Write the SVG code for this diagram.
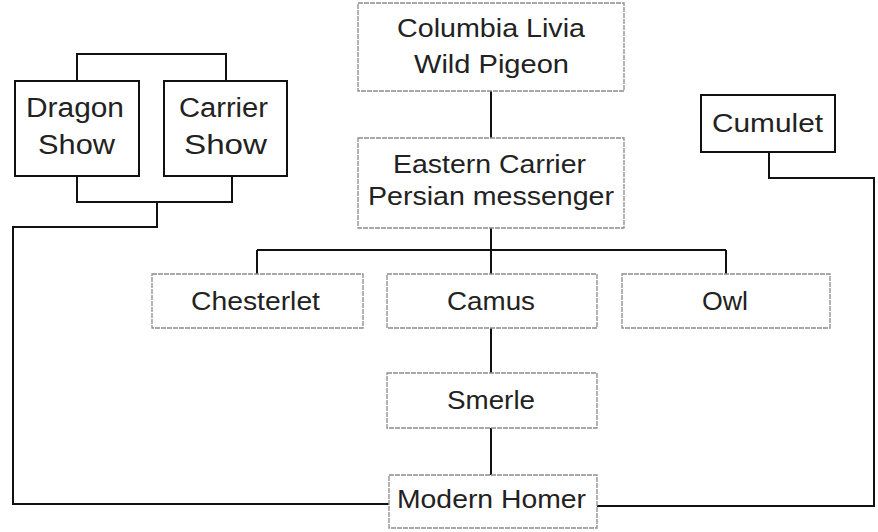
<svg xmlns="http://www.w3.org/2000/svg" width="878" height="532" viewBox="0 0 878 532">
<style>
.bg{fill:#fff}
.soft{fill:#fff;stroke:#8c8c8c;stroke-width:1.3;stroke-dasharray:5 1}
.hard{fill:#fff;stroke:#111;stroke-width:2}
.t{font-family:"Liberation Sans",Arial,sans-serif;font-size:25px;fill:#222}
.tb{font-family:"Liberation Sans",Arial,sans-serif;font-size:27px;fill:#222}
.c{fill:none;stroke:#111;stroke-width:2}
</style>
<rect class="bg" x="0" y="0" width="878" height="532"/>
<g id="connectors">
<path class="c" d="M491 91V138"/>
<path class="c" d="M491 228V250"/>
<path class="c" d="M257 250H726"/>
<path class="c" d="M257 250V274"/>
<path class="c" d="M491 250V274"/>
<path class="c" d="M726 250V274"/>
<path class="c" d="M491 328V373"/>
<path class="c" d="M491 428V475"/>
<path class="c" d="M77 81V54H226V81"/>
<path class="c" d="M77 176V202H232V176"/>
<path class="c" d="M157 202V227H13V504H389"/>
<path class="c" d="M769 152V178H874V506H597"/>
</g>
<g id="columbia">
<rect class="soft" x="358" y="3" width="266" height="88"/>
<text class="t" x="397" y="37" textLength="188" lengthAdjust="spacingAndGlyphs">Columbia Livia</text>
<text class="t" x="414" y="73" textLength="155" lengthAdjust="spacingAndGlyphs">Wild Pigeon</text>
</g>
<g id="eastern">
<rect class="soft" x="358" y="138" width="266" height="90"/>
<text class="t" x="393" y="173" textLength="193" lengthAdjust="spacingAndGlyphs">Eastern Carrier</text>
<text class="t" x="368" y="205" textLength="246" lengthAdjust="spacingAndGlyphs">Persian messenger</text>
</g>
<g id="dragon">
<rect class="hard" x="15" y="81" width="124" height="95"/>
<text class="tb" x="26" y="117" textLength="98" lengthAdjust="spacingAndGlyphs">Dragon</text>
<text class="tb" x="38" y="154" textLength="77" lengthAdjust="spacingAndGlyphs">Show</text>
</g>
<g id="carrier">
<rect class="hard" x="164" y="81" width="123" height="95"/>
<text class="tb" x="179" y="117" textLength="89" lengthAdjust="spacingAndGlyphs">Carrier</text>
<text class="tb" x="184" y="154" textLength="83" lengthAdjust="spacingAndGlyphs">Show</text>
</g>
<g id="cumulet">
<rect class="hard" x="701" y="95" width="134" height="57"/>
<text class="t" x="712" y="132" textLength="111" lengthAdjust="spacingAndGlyphs">Cumulet</text>
</g>
<g id="chesterlet">
<rect class="soft" x="152" y="274" width="211" height="54"/>
<text class="t" x="191" y="310" textLength="129" lengthAdjust="spacingAndGlyphs">Chesterlet</text>
</g>
<g id="camus">
<rect class="soft" x="387" y="274" width="210" height="54"/>
<text class="t" x="447" y="310" textLength="88" lengthAdjust="spacingAndGlyphs">Camus</text>
</g>
<g id="owl">
<rect class="soft" x="622" y="274" width="208" height="54"/>
<text class="t" x="702" y="310" textLength="46" lengthAdjust="spacingAndGlyphs">Owl</text>
</g>
<g id="smerle">
<rect class="soft" x="387" y="373" width="210" height="55"/>
<text class="t" x="447" y="409" textLength="88" lengthAdjust="spacingAndGlyphs">Smerle</text>
</g>
<g id="homer">
<rect class="soft" x="389" y="475" width="208" height="53"/>
<text class="t" x="397" y="508" textLength="189" lengthAdjust="spacingAndGlyphs">Modern Homer</text>
</g>
</svg>
